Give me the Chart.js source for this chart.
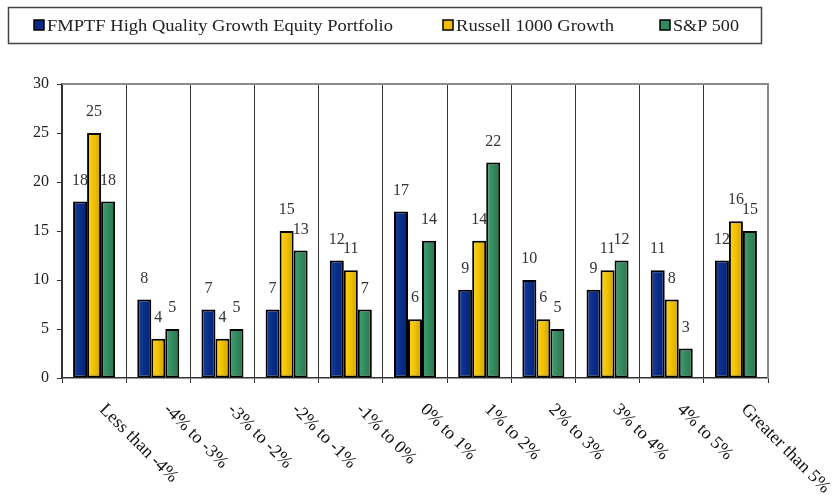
<!DOCTYPE html>
<html>
<head>
<meta charset="utf-8">
<script src="https://cdn.jsdelivr.net/npm/chart.js@4.4.1/dist/chart.umd.min.js"></script>
<style>
  html, body { margin: 0; padding: 0; background: #fff; }
  #wrap { position: relative; width: 834px; height: 497px; }
</style>
</head>
<body>
<div id="wrap"><canvas id="chart" width="834" height="497"></canvas></div>
<script>
const categories = ['Less than -4%', '-4% to -3%', '-3% to -2%', '-2% to -1%', '-1% to 0%',
  '0% to 1%', '1% to 2%', '2% to 3%', '3% to 4%', '4% to 5%', 'Greater than 5%'];
const fmptf = [18, 8, 7, 7, 12, 17, 9, 10, 9, 11, 12];
const russell = [25, 4, 4, 15, 11, 6, 14, 6, 11, 8, 16];
const sp500 = [18, 5, 5, 13, 7, 14, 22, 5, 12, 3, 15];
const yTicks = [0, 5, 10, 15, 20, 25, 30];

const SERIF = '"Liberation Serif", "DejaVu Serif", serif';
const CAT_PCT = 0.655;

// left-to-right shading for each series
const shades = [
  ['#1d3f9e', '#0a2d8a', '#002470'],
  ['#ffd419', '#f0c000', '#cfa200'],
  ['#43a373', '#338a5e', '#27744d'],
];

function barFill(ctx) {
  const chart = ctx.chart;
  const s = shades[ctx.datasetIndex];
  if (!chart.chartArea || ctx.dataIndex === undefined) return s[1];
  const xs = chart.scales.x;
  const cw = xs.getPixelForValue(1) - xs.getPixelForValue(0);
  const bw = cw * CAT_PCT / 3;
  const left = xs.getPixelForValue(ctx.dataIndex) - 1.5 * bw + ctx.datasetIndex * bw;
  const g = chart.ctx.createLinearGradient(left, 0, left + bw, 0);
  g.addColorStop(0, s[0]);
  g.addColorStop(0.5, s[1]);
  g.addColorStop(1, s[2]);
  return g;
}

// draw text stretched horizontally to a given width
function wideText(c, text, x, y, w) {
  const k = w / c.measureText(text).width;
  c.save();
  c.translate(x, y);
  c.scale(k, 1);
  c.fillText(text, 0, 0);
  c.restore();
}

const decor = {
  id: 'decor',
  afterDraw(chart) {
    const c = chart.ctx;
    const a = chart.chartArea;
    const xs = chart.scales.x;
    c.save();

    // frame on top and right
    c.strokeStyle = '#8a8a8a';
    c.lineWidth = 2;
    c.beginPath();
    c.moveTo(a.left, a.top);
    c.lineTo(a.right, a.top);
    c.lineTo(a.right, a.bottom);
    c.stroke();

    // value labels
    c.font = '16px ' + SERIF;
    c.fillStyle = '#333';
    c.textAlign = 'center';
    c.textBaseline = 'middle';
    chart.data.datasets.forEach((ds, di) => {
      chart.getDatasetMeta(di).data.forEach((el, i) => {
        c.fillText(String(ds.data[i]), el.x, el.y - 21);
      });
    });

    // rotated category labels
    c.font = '18px ' + SERIF;
    c.fillStyle = '#111';
    c.textAlign = 'left';
    c.textBaseline = 'middle';
    categories.forEach((lab, i) => {
      const x = xs.getPixelForValue(i);
      c.save();
      c.translate(x + 8, a.bottom + 29);
      c.rotate(Math.PI / 4);
      c.fillText(lab, 0, 0);
      c.restore();
    });

    // legend
    c.strokeStyle = '#444';
    c.lineWidth = 1.5;
    c.strokeRect(8.5, 7.5, 753, 36);
    const items = [
      { x: 34, tx: 47, w: 346 },
      { x: 443, tx: 456, w: 158 },
      { x: 660, tx: 673, w: 66 },
    ];
    c.font = '17px ' + SERIF;
    c.textBaseline = 'alphabetic';
    items.forEach((it, di) => {
      c.fillStyle = shades[di][1];
      c.fillRect(it.x, 20, 10, 10);
      c.strokeStyle = '#000';
      c.lineWidth = 1.5;
      c.strokeRect(it.x, 20, 10, 10);
      c.fillStyle = '#222';
      wideText(c, chart.data.datasets[di].label, it.tx, 31, it.w);
    });

    c.restore();
  }
};

new Chart(document.getElementById('chart'), {
  type: 'bar',
  data: {
    labels: categories,
    datasets: [
      { label: 'FMPTF High Quality Growth Equity Portfolio', data: fmptf },
      { label: 'Russell 1000 Growth', data: russell },
      { label: 'S&P 500', data: sp500 },
    ].map(d => Object.assign(d, {
      backgroundColor: barFill,
      borderColor: '#000',
      borderWidth: 2,
      borderSkipped: false,
      categoryPercentage: CAT_PCT,
      barPercentage: 1,
    })),
  },
  options: {
    responsive: false,
    animation: false,
    layout: { padding: { top: 84, right: 66, bottom: 0, left: 0 } },
    plugins: { legend: { display: false }, tooltip: { enabled: false } },
    scales: {
      x: {
        ticks: { display: false },
        grid: { color: '#333', lineWidth: 1, tickLength: 5 },
        border: { color: '#333', width: 1.5 },
        afterFit: s => { s.height = 119; },
      },
      y: {
        min: 0,
        max: 30,
        afterBuildTicks: s => { s.ticks = yTicks.map(v => ({ value: v })); },
        ticks: { color: '#222', font: { family: SERIF, size: 16 }, padding: 8 },
        grid: { drawOnChartArea: false, color: '#333', tickLength: 5 },
        border: { color: '#333', width: 1.5 },
        afterFit: s => { s.width = 62; },
      },
    },
  },
  plugins: [decor],
});
</script>
</body>
</html>
